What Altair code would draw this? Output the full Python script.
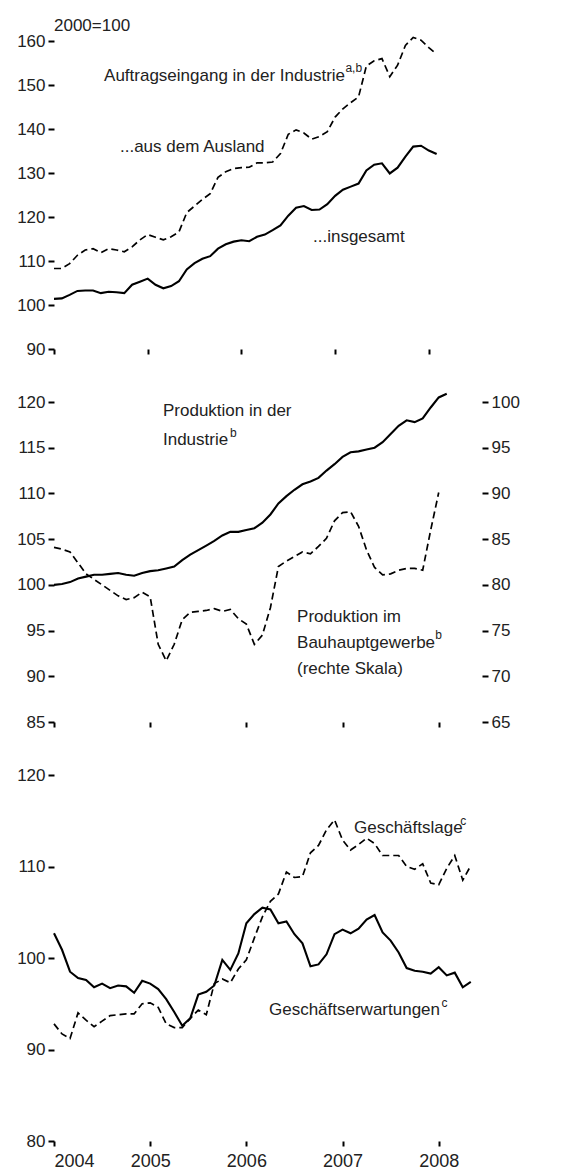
import altair as alt
import pandas as pd

FONT = "Liberation Sans"
FS = 17
SUP = 12
TXT = "#222222"
YEAR0 = 2004
YEARS = [2004, 2005, 2006, 2007, 2008]

# ---- Panel 1: Auftragseingang in der Industrie (2000=100), monthly from Jan 2004
auftrag_ausland = [108.3, 108.3, 109.4, 111.3, 112.5, 112.8, 111.9, 112.8, 112.5, 112.1,
                   113.2, 114.8, 116.0, 115.4, 114.8, 115.5, 116.6, 121.0, 122.5, 124.0,
                   125.3, 129.0, 130.3, 131.0, 131.2, 131.3, 132.3, 132.3, 132.5, 134.4,
                   138.8, 139.8, 139.1, 137.7, 138.3, 139.4, 142.7, 144.6, 146.0, 147.3,
                   154.3, 155.5, 156.0, 151.9, 154.5, 159.0, 160.8, 160.2, 158.5, 157.0]
auftrag_insgesamt = [101.4, 101.5, 102.3, 103.2, 103.3, 103.3, 102.7, 103.0, 102.9, 102.7,
                     104.6, 105.3, 106.0, 104.6, 103.8, 104.3, 105.4, 108.1, 109.5, 110.5,
                     111.1, 112.8, 113.8, 114.4, 114.7, 114.5, 115.5, 116.0, 117.0, 118.1,
                     120.3, 122.1, 122.5, 121.6, 121.7, 122.9, 124.8, 126.2, 126.9, 127.6,
                     130.6, 131.9, 132.2, 129.9, 131.2, 133.7, 136.0, 136.2, 135.1, 134.3]

# ---- Panel 2: Produktion
prod_industrie = [100.0, 100.1, 100.3, 100.7, 100.9, 101.1, 101.1, 101.2, 101.3, 101.1,
                  101.0, 101.3, 101.5, 101.6, 101.8, 102.0, 102.7, 103.3, 103.8, 104.3,
                  104.8, 105.4, 105.8, 105.8, 106.0, 106.2, 106.8, 107.7, 108.9, 109.7,
                  110.4, 111.0, 111.3, 111.7, 112.5, 113.2, 114.0, 114.5, 114.6, 114.8,
                  115.0, 115.6, 116.5, 117.4, 118.0, 117.8, 118.2, 119.4, 120.5, 120.9]
# right scale
prod_bau = [84.1, 83.9, 83.6, 82.4, 81.2, 80.6, 80.0, 79.4, 78.8, 78.4,
            78.6, 79.2, 78.7, 73.5, 71.7, 73.5, 76.2, 77.0, 77.1, 77.2,
            77.4, 77.1, 77.3, 76.3, 75.7, 73.5, 74.5, 77.5, 82.0, 82.6,
            83.1, 83.6, 83.4, 84.2, 85.1, 87.0, 87.9, 88.0, 86.4, 83.8,
            81.9, 81.1, 81.2, 81.6, 81.8, 81.8, 81.6, 86.0, 90.1]

# ---- Panel 3: ifo
geschaeftslage = [92.8, 91.7, 91.2, 94.0, 93.2, 92.5, 93.1, 93.7, 93.8, 93.9,
                  93.9, 95.0, 95.1, 94.6, 92.8, 92.4, 92.4, 93.4, 94.3, 93.8,
                  97.2, 97.7, 97.3, 98.8, 99.8, 102.2, 104.5, 106.2, 107.0, 109.4,
                  108.8, 108.9, 111.5, 112.3, 114.0, 115.1, 112.9, 111.8, 112.4, 113.1,
                  112.5, 111.2, 111.2, 111.2, 110.0, 109.7, 110.3, 108.2, 108.0, 109.8,
                  111.2, 108.5, 110.1]
geschaeftserwartungen = [102.7, 100.9, 98.5, 97.8, 97.6, 96.8, 97.2, 96.7, 97.0, 96.9,
                         96.2, 97.5, 97.2, 96.6, 95.5, 94.1, 92.6, 93.4, 96.0, 96.3,
                         97.0, 99.8, 98.7, 100.5, 103.8, 104.8, 105.5, 105.3, 103.8, 104.0,
                         102.6, 101.6, 99.1, 99.3, 100.4, 102.6, 103.1, 102.7, 103.2, 104.2,
                         104.7, 102.8, 101.9, 100.6, 98.9, 98.6, 98.5, 98.3, 99.0, 98.1,
                         98.4, 96.8, 97.4]

XDOM = [2004, 2008.45]


def series_df(values):
    return pd.DataFrame({"t": [YEAR0 + i / 12 for i in range(len(values))], "v": values})


def x_axis(labels):
    return alt.Axis(values=YEARS, labels=labels, format="d", domain=False,
                    ticks=True, tickSize=5, tickWidth=2, tickColor="black",
                    grid=False, title=None, labelFontSize=18, labelFont=FONT,
                    labelColor=TXT, labelPadding=6)


def y_axis(vals, orient="left"):
    return alt.Axis(values=vals, orient=orient, domain=False, ticks=True, tickSize=6,
                    tickWidth=2, tickColor="black", grid=False, title=None,
                    labelFontSize=FS, labelFont=FONT, labelColor=TXT, labelPadding=3)


def xs():
    return alt.Scale(domain=XDOM, nice=False, zero=False)


def ys(dom):
    return alt.Scale(domain=dom, nice=False, zero=False)


def line(values, dom, yax, xax, dashed=False):
    ch = alt.Chart(series_df(values))
    if dashed:
        mk = ch.mark_line(color="black", strokeWidth=1.7, strokeDash=[7, 4])
    else:
        mk = ch.mark_line(color="black", strokeWidth=2.1)
    return mk.encode(x=alt.X("t:Q", scale=xs(), axis=xax),
                     y=alt.Y("v:Q", scale=ys(dom), axis=yax))


def texts(rows, dom, size, yax, xax):
    df = pd.DataFrame(rows, columns=["t", "v", "label"])
    return alt.Chart(df).mark_text(align="left", baseline="middle", fontSize=size,
                                   font=FONT, color=TXT).encode(
        x=alt.X("t:Q", scale=xs(), axis=xax),
        y=alt.Y("v:Q", scale=ys(dom), axis=yax),
        text="label:N")


# Panel 1
D1 = [90, 160]
ya1 = y_axis(list(range(90, 161, 10)))
xa1 = x_axis(False)
p1 = alt.layer(
    line(auftrag_ausland, D1, ya1, xa1, dashed=True),
    line(auftrag_insgesamt, D1, ya1, xa1),
    texts([(2004.0, 163.4, "2000=100"),
           (2004.534, 152.05, "Auftragseingang in der Industrie"),
           (2004.704, 135.9, "...aus dem Ausland"),
           (2006.764, 115.45, "...insgesamt")], D1, FS, ya1, xa1),
    texts([(2007.11, 153.8, "a,b")], D1, SUP, ya1, xa1),
).properties(width=417, height=308)

# Panel 2
D2 = [85, 120]
D2R = [65, 100]
ya2 = y_axis(list(range(85, 121, 5)))
xa2 = x_axis(False)
inner2 = alt.layer(
    line(prod_industrie, D2, ya2, xa2),
    texts([(2005.133, 119.0, "Produktion in der"),
           (2005.133, 115.8, "Industrie"),
           (2006.527, 96.5, "Produktion im"),
           (2006.527, 93.6, "Bauhauptgewerbe"),
           (2006.527, 90.8, "(rechte Skala)")], D2, FS, ya2, xa2),
    texts([(2005.83, 116.6, "b"), (2007.965, 94.5, "b")], D2, SUP, ya2, xa2),
)
p2 = alt.layer(
    inner2,
    line(prod_bau, D2R, y_axis(list(range(65, 101, 5)), orient="right"), xa2, dashed=True),
).resolve_scale(y="independent").properties(width=428, height=320)

# Panel 3
D3 = [80, 120]
ya3 = y_axis(list(range(80, 121, 10)))
xa3 = x_axis(True)
p3 = alt.layer(
    line(geschaeftslage, D3, ya3, xa3, dashed=True),
    line(geschaeftserwartungen, D3, ya3, xa3),
    texts([(2007.119, 114.2, "Geschäftslage"),
           (2006.235, 94.3, "Geschäftserwartungen")], D3, FS, ya3, xa3),
    texts([(2008.225, 115.0, "c"), (2008.03, 95.1, "c")], D3, SUP, ya3, xa3),
).properties(width=428, height=366)

chart = alt.vconcat(p1, p2, p3, spacing=53, bounds="flush").properties(
    padding={"left": 8, "top": 9, "right": 5, "bottom": 5}
).configure(font=FONT).configure_view(stroke=None)

chart.save("out.html", embed_options={"renderer": "svg", "actions": False})
